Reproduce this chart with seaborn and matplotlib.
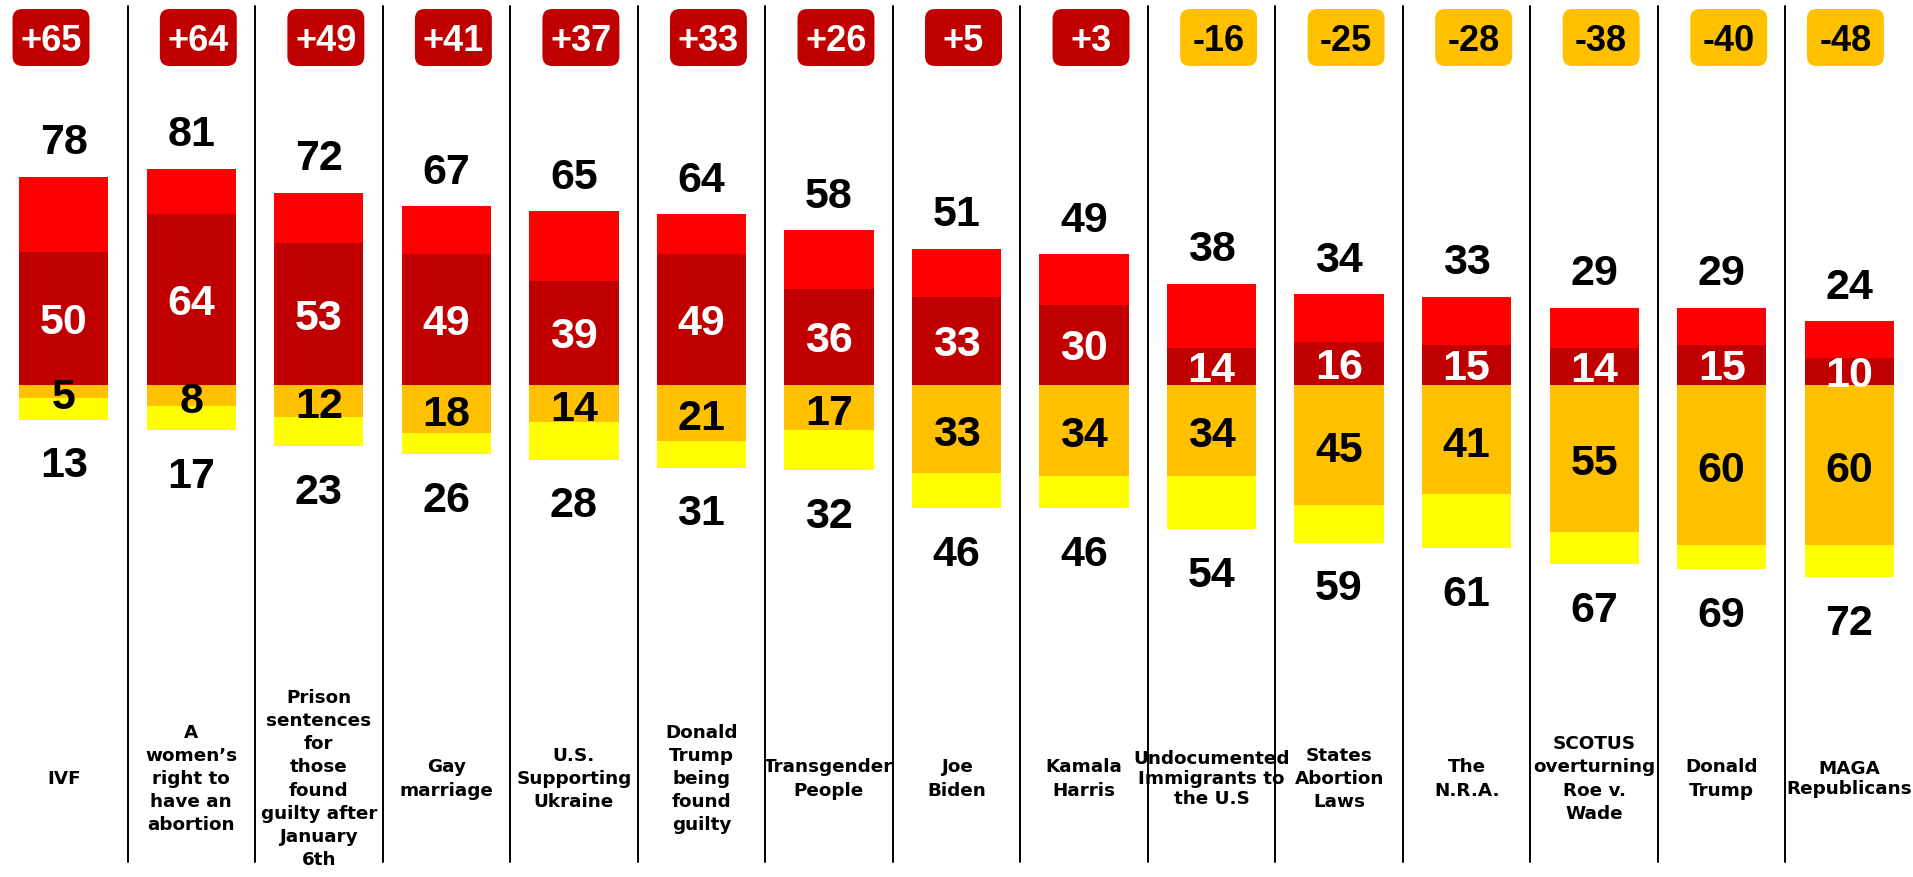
import numpy as np
import pandas as pd
import seaborn as sns
import matplotlib
matplotlib.use("Agg")
import matplotlib.pyplot as plt
from matplotlib.patches import FancyBboxPatch
import matplotlib.transforms as mtransforms

# ---------------- data ----------------
categories = [
    "IVF",
    "A\nwomen\u2019s\nright to\nhave an\nabortion",
    "Prison\nsentences\nfor\nthose\nfound\nguilty after\nJanuary\n6th",
    "Gay\nmarriage",
    "U.S.\nSupporting\nUkraine",
    "Donald\nTrump\nbeing\nfound\nguilty",
    "Transgender\nPeople",
    "Joe\nBiden",
    "Kamala\nHarris",
    "Undocumented\nImmigrants to\nthe U.S",
    "States\nAbortion\nLaws",
    "The\nN.R.A.",
    "SCOTUS\noverturning\nRoe v.\nWade",
    "Donald\nTrump",
    "MAGA\nRepublicans",
]
favorable_total = [78, 81, 72, 67, 65, 64, 58, 51, 49, 38, 34, 33, 29, 29, 24]
strongly_favorable = [50, 64, 53, 49, 39, 49, 36, 33, 30, 14, 16, 15, 14, 15, 10]
strongly_unfavorable = [5, 8, 12, 18, 14, 21, 17, 33, 34, 34, 45, 41, 55, 60, 60]
unfavorable_total = [13, 17, 23, 26, 28, 31, 32, 46, 46, 54, 59, 61, 67, 69, 72]
net_rating = [65, 64, 49, 41, 37, 33, 26, 5, 3, -16, -25, -28, -38, -40, -48]

df = pd.DataFrame({
    "category": categories,
    "fav_total": favorable_total,
    "fav_strong": strongly_favorable,
    "unfav_strong_neg": [-v for v in strongly_unfavorable],
    "unfav_total_neg": [-v for v in unfavorable_total],
})

# ---------------- style ----------------
sns.set_theme(style="white")
plt.rcParams["font.family"] = ["Liberation Sans", "DejaVu Sans"]

DARK_RED = "#C00000"
RED = "#FF0000"
AMBER = "#FFC000"
YELLOW = "#FFFF00"

W, H = 1913, 877
fig = plt.figure(figsize=(W / 100, H / 100), dpi=100)
ax = fig.add_axes([0, 0, 1, 1])

bar_w = 0.70
common = dict(data=df, x="category", width=bar_w, saturation=1,
              errorbar=None, linewidth=0, ax=ax, order=categories)
sns.barplot(y="fav_total", color=RED, **common)
sns.barplot(y="fav_strong", color=DARK_RED, **common)
sns.barplot(y="unfav_total_neg", color=YELLOW, **common)
sns.barplot(y="unfav_strong_neg", color=AMBER, **common)

n = len(categories)
px_per_unit = 2.67
baseline_px = 385
ax.set_xlim(-0.5, n - 0.5)
ax.set_ylim(-(H - baseline_px) / px_per_unit, baseline_px / px_per_unit)
ax.axis("off")

# dividers
for k in range(n - 1):
    ax.axvline(k + 0.5, ymin=1 - 862 / H, ymax=1 - 6 / H, color="black", lw=1.4, zorder=1)

num_font = dict(fontsize=31, fontweight="bold", family=["Liberation Sans", "DejaVu Sans"])

ytop = baseline_px / px_per_unit
badge_y = ytop - 37.5 / px_per_unit
label_y_data = ytop - 779 / px_per_unit

for i in range(n):
    fav = favorable_total[i]
    sf = strongly_favorable[i]
    su = strongly_unfavorable[i]
    uf = unfavorable_total[i]
    # totals
    ax.text(i, fav + 14.2, f"{fav}", ha="center", va="center_baseline", color="black", **num_font)
    ax.text(i, -uf - 15.8, f"{uf}", ha="center", va="center_baseline", color="black", **num_font)
    # inner segments
    ax.text(i, sf / 2, f"{sf}", ha="center", va="center_baseline", color="white", **num_font)
    ax.text(i, -su / 2 - 0.5, f"{su}", ha="center", va="center_baseline", color="black", **num_font)

    # badge (edge badges are pulled slightly inward, as in the original)
    net = net_rating[i]
    pos = net > 0
    fc = DARK_RED if pos else AMBER
    tc = "white" if pos else "black"
    if i == 0:
        dx = -0.10
    elif i == n - 1:
        dx = -0.03
    else:
        dx = 0.055
    bx = i + dx
    trans = (mtransforms.Affine2D().scale(1 / 72) + fig.dpi_scale_trans +
             mtransforms.ScaledTranslation(bx, badge_y, ax.transData))
    bw, bh = 55.4, 41.0
    patch = FancyBboxPatch((-bw / 2, -bh / 2), bw, bh,
                           boxstyle="round,pad=0,rounding_size=7",
                           transform=trans, facecolor=fc, edgecolor="none", zorder=3)
    ax.add_patch(patch)
    txt = f"+{net}" if pos else f"{net}"
    ax.text(bx, badge_y, txt, ha="center", va="center_baseline", color=tc,
            fontsize=26, fontweight="bold", family=["Liberation Sans", "DejaVu Sans"], zorder=4)

    # category label
    tight = categories[i].startswith("Undocumented") or categories[i].startswith("MAGA")
    ax.text(i, label_y_data, categories[i], ha="center", va="center", ma="center",
            fontsize=13.2, fontweight="bold", family=["DejaVu Sans"],
            linespacing=1.15 if tight else 1.36, color="black", zorder=4)

fig.savefig("out.png", dpi=100)
